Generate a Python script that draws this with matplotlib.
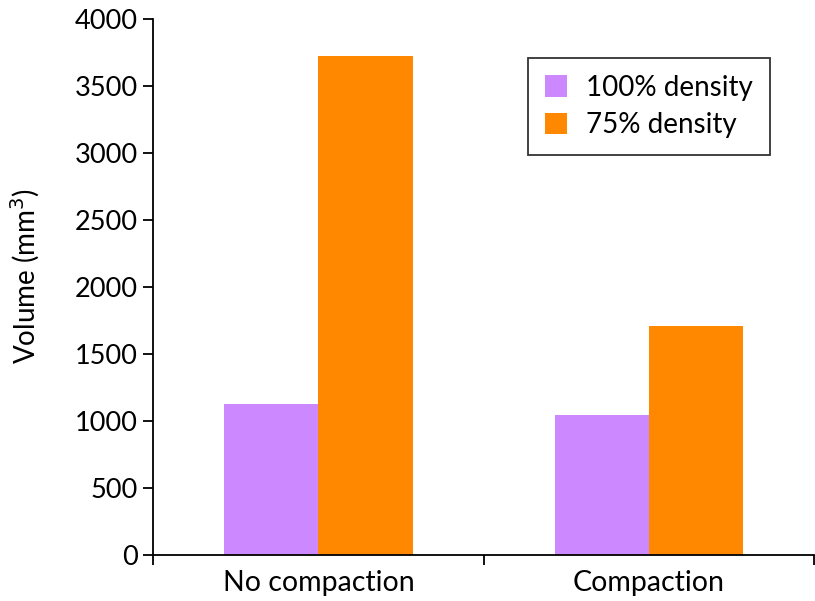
import numpy as np
from matplotlib import pyplot as plt

categories = ['No compaction', 'Compaction']
density_100 = [1130, 1045]
density_75 = [3725, 1710]

plt.rcParams['font.family'] = ['Lato', 'DejaVu Sans']

fig = plt.figure(figsize=(8.15, 6.01), dpi=100)
ax = fig.add_axes([0.188, 0.0765, 0.811, 0.892])

x = np.arange(len(categories))
w = 0.285
ax.bar(x - w/2, density_100, w, color='#cc88ff', label='100% density')
ax.bar(x + w/2, density_75, w, color='#ff8800', label='75% density')

ax.set_xlim(-0.5, 1.5)
ax.set_ylim(0, 4000)
ax.set_yticks(np.arange(0, 4001, 500))
ax.set_xticks([-0.5, 0.5, 1.5])
ax.set_xticklabels([])
ax.set_xticks(x, minor=True)
ax.set_xticklabels(categories, minor=True)
ax.tick_params(axis='x', which='minor', length=0, labelsize=20.5, pad=11)
ax.tick_params(axis='x', which='major', length=7, width=1.3)
ax.tick_params(axis='y', length=7, width=1.3, labelsize=19.5, pad=4)
ax.spines['top'].set_visible(False)
ax.spines['right'].set_visible(False)
ax.spines['left'].set_linewidth(1.3)
ax.spines['bottom'].set_linewidth(1.3)
ax.set_ylabel('Volume (mm$^3$)', fontsize=20)
ax.yaxis.set_label_coords(-0.168, 0.52)

leg = ax.legend(loc='upper right', bbox_to_anchor=(0.933, 0.927), fontsize=20,
                frameon=True, fancybox=False, edgecolor='black', handlelength=0.8,
                handleheight=0.8, handletextpad=0.7, borderpad=0.6, labelspacing=0.4,
                borderaxespad=0)
leg.get_frame().set_linewidth(1.3)

fig.savefig('out.png', dpi=100)
